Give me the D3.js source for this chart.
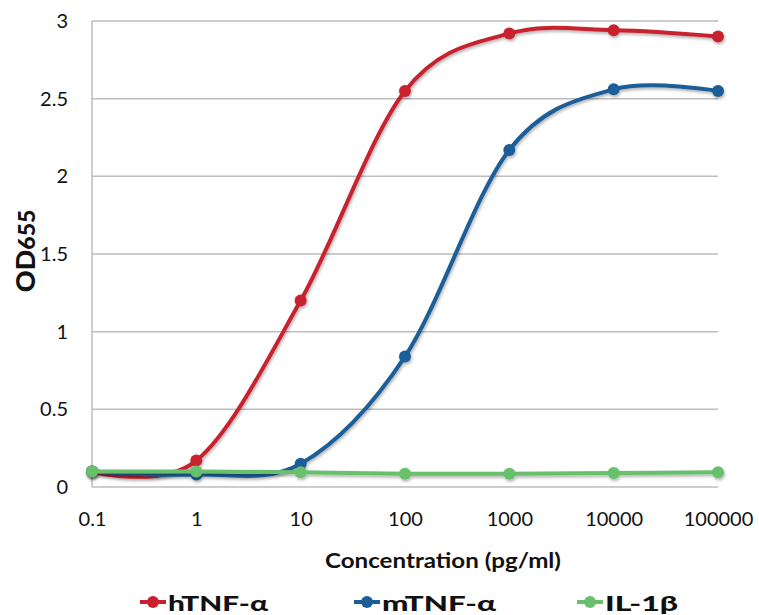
<html lang="en">
<head>
<meta charset="utf-8">
<script src="https://cdn.jsdelivr.net/npm/d3@7"></script>
<style>
  body { margin: 0; background: #fff; }
  text { font-family: Lato, "DejaVu Sans", sans-serif; fill: #111; }
  .tick text { font-size: 20px; }
  .grid line { stroke: #bdbdbd; stroke-width: 1.5; }
  .series { fill: none; stroke-width: 4; }
  .legend text { font-size: 21px; font-weight: 900; }
</style>
</head>
<body>
<div id="chart"></div>
<script>
// concentrations (pg/ml) and OD readings
var concentrations = [0.1, 1, 10, 100, 1000, 10000, 100000];
var hTNF = [0.10, 0.17, 1.20, 2.55, 2.92, 2.94, 2.90];
var mTNF = [0.10, 0.08, 0.15, 0.84, 2.17, 2.56, 2.55];
var il1b = [0.10, 0.10, 0.095, 0.085, 0.085, 0.09, 0.095];
var yTicks = [0, 0.5, 1, 1.5, 2, 2.5, 3];
var seriesNames = ["hTNF-\u03b1", "mTNF-\u03b1", "IL-1\u03b2"];
var seriesColors = ["#c8202f", "#1d5e98", "#68bf6c"];

var width = 759, height = 615;
var margin = {top: 21, right: 41, bottom: 128, left: 92};

var svg = d3.select("#chart").append("svg")
    .attr("width", width)
    .attr("height", height);

var defs = svg.append("defs");
var shadow = defs.append("filter").attr("id", "shadow")
    .attr("x", "-20%").attr("y", "-20%").attr("width", "140%").attr("height", "140%");
shadow.append("feDropShadow")
    .attr("dx", 1).attr("dy", 2).attr("stdDeviation", 1.5)
    .attr("flood-color", "#000").attr("flood-opacity", 0.3);

var x = d3.scaleLog()
    .domain([0.1, 100000])
    .range([margin.left, width - margin.right]);

var y = d3.scaleLinear()
    .domain([0, 3])
    .range([height - margin.bottom, margin.top]);

// horizontal gridlines
svg.append("g")
    .attr("class", "grid")
    .selectAll("line")
    .data(yTicks)
    .enter().append("line")
    .attr("x1", margin.left)
    .attr("x2", width - margin.right)
    .attr("y1", function(d) { return y(d); })
    .attr("y2", function(d) { return y(d); });

svg.append("line")
    .attr("x1", margin.left).attr("x2", margin.left)
    .attr("y1", y(0)).attr("y2", y(3))
    .style("stroke", "#bdbdbd").style("stroke-width", 1.5);

var yAxis = svg.append("g")
    .attr("transform", "translate(" + margin.left + ",0)")
    .call(d3.axisLeft(y).tickValues(yTicks).tickSize(0).tickPadding(24)
      .tickFormat(function(d) { return String(d); }));
yAxis.select(".domain").remove();

var xAxis = svg.append("g")
    .attr("transform", "translate(0," + y(0) + ")")
    .call(d3.axisBottom(x).tickValues(concentrations).tickSize(0).tickPadding(25)
      .tickFormat(function(d) { return String(d); }));
xAxis.select(".domain").remove();

svg.append("text")
    .attr("x", x(100) + 38)
    .attr("y", 568)
    .attr("text-anchor", "middle")
    .attr("textLength", 236)
    .attr("lengthAdjust", "spacingAndGlyphs")
    .style("font-size", "20px")
    .style("font-weight", "bold")
    .text("Concentration (pg/ml)");

var yTitle = svg.append("text")
    .attr("transform", "translate(35," + y(1.52) + ") rotate(-90)")
    .attr("text-anchor", "middle")
    .style("font-size", "27px")
    .style("font-weight", "900");
yTitle.append("tspan").text("OD");
yTitle.append("tspan").style("font-size", "23px").text("655");

var line = d3.line()
    .x(function(d) { return x(d[0]); })
    .y(function(d) { return y(d[1]); })
    .curve(d3.curveCardinal.tension(0));

var allSeries = [hTNF, mTNF, il1b];
allSeries.forEach(function(vals, i) {
  var pts = concentrations.map(function(c, j) { return [c, vals[j]]; });
  var g = svg.append("g").attr("filter", "url(#shadow)");
  g.append("path")
      .datum(pts)
      .attr("class", "series")
      .attr("d", line)
      .style("stroke", seriesColors[i]);
  g.selectAll("circle")
      .data(pts)
      .enter().append("circle")
      .attr("cx", function(d) { return x(d[0]); })
      .attr("cy", function(d) { return y(d[1]); })
      .attr("r", 6)
      .style("fill", seriesColors[i]);
});

// legend
var legendX = [140, 354, 577];
var legendTextW = [100, 114, 73];
var legend = svg.selectAll(".legend")
    .data(seriesNames)
    .enter().append("g")
    .attr("class", "legend")
    .attr("transform", function(d, i) { return "translate(" + legendX[i] + ",602)"; });

legend.append("line")
    .attr("x1", 0).attr("x2", 26)
    .style("stroke", function(d, i) { return seriesColors[i]; })
    .style("stroke-width", 4);
legend.append("circle")
    .attr("cx", 13).attr("r", 6)
    .style("fill", function(d, i) { return seriesColors[i]; });
legend.append("text")
    .attr("x", 28)
    .attr("y", 9)
    .attr("textLength", function(d, i) { return legendTextW[i]; })
    .attr("lengthAdjust", "spacingAndGlyphs")
    .text(function(d) { return d; });
</script>
</body>
</html>
